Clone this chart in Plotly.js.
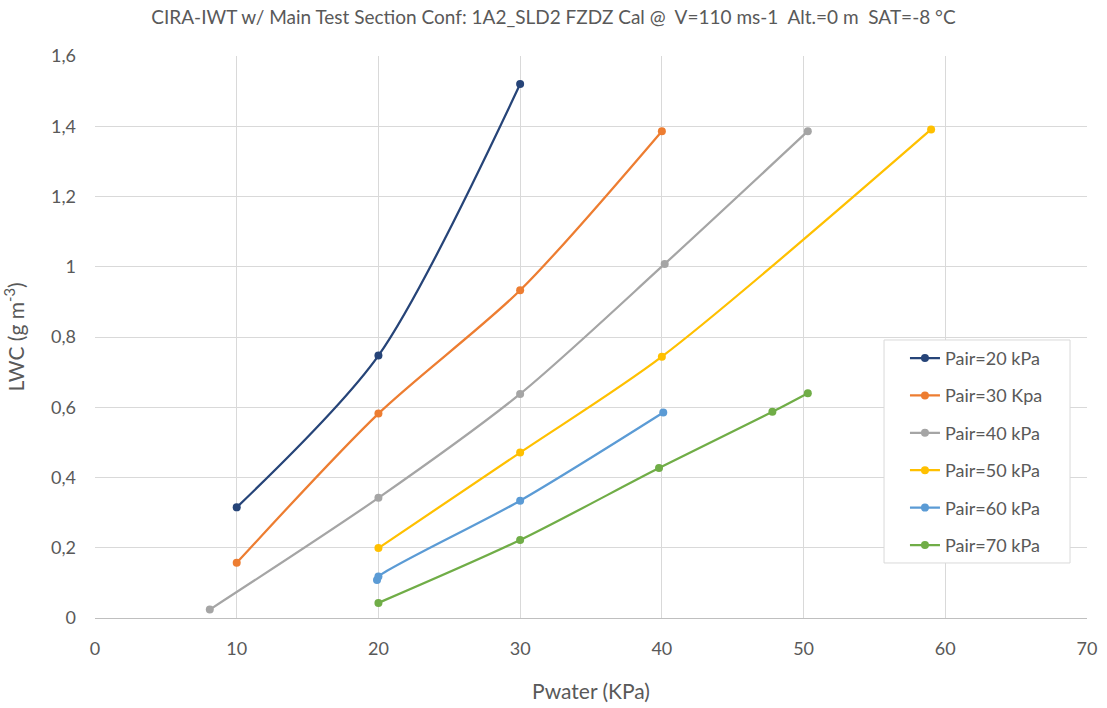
<!DOCTYPE html>
<html>
<head>
<meta charset="utf-8">
<script src="https://cdn.plot.ly/plotly-3.0.1.min.js"></script>
<style>
  html, body { margin: 0; padding: 0; background: #ffffff; }
  #chart { width: 1107px; height: 708px; }
</style>
</head>
<body>
<div id="chart"></div>
<script>
// LWC calibration curves, one per air pressure setting
const seriesNames = ['Pair=20 kPa', 'Pair=30 Kpa', 'Pair=40 kPa', 'Pair=50 kPa', 'Pair=60 kPa', 'Pair=70 kPa'];
const seriesColors = ['#264478', '#ED7D31', '#A5A5A5', '#FFC000', '#5B9BD5', '#70AD47'];

const pwater20 = [10, 20, 30];
const lwc20 = [0.315, 0.747, 1.52];

const pwater30 = [10, 20, 30, 40];
const lwc30 = [0.157, 0.582, 0.933, 1.386];

const pwater40 = [8.1, 20, 30, 40.2, 50.3];
const lwc40 = [0.024, 0.342, 0.638, 1.008, 1.386];

const pwater50 = [20, 30, 40, 59.0];
const lwc50 = [0.199, 0.471, 0.744, 1.391];

const pwater60 = [19.9, 20, 30, 40.1];
const lwc60 = [0.108, 0.118, 0.334, 0.585];

const pwater70 = [20, 30, 39.8, 47.8, 50.3];
const lwc70 = [0.043, 0.222, 0.427, 0.587, 0.640];

const xs = [pwater20, pwater30, pwater40, pwater50, pwater60, pwater70];
const ys = [lwc20, lwc30, lwc40, lwc50, lwc60, lwc70];

const traces = seriesNames.map((name, i) => ({
  type: 'scatter',
  mode: 'lines+markers',
  name: name,
  legendgroup: 'g' + i,
  x: xs[i],
  y: ys[i],
  line: { color: seriesColors[i], width: 2.25, shape: 'spline', smoothing: 0.8 },
  marker: { color: seriesColors[i], size: 8 },
  hoverinfo: 'x+y+name'
}));

const fontFamily = 'Lato, "Open Sans", "Liberation Sans", sans-serif';

const layout = {
  width: 1107,
  height: 708,
  paper_bgcolor: '#ffffff',
  plot_bgcolor: '#ffffff',
  separators: ',.',
  margin: { l: 95, r: 20, t: 56, b: 90 },
  font: { family: fontFamily, color: '#595959', size: 17 },
  title: {
    text: 'CIRA-IWT w/ Main Test Section Conf: 1A2_SLD2 FZDZ Cal @  V=110 ms-1  Alt.=0 m  SAT=-8 °C',
    font: { family: fontFamily, size: 19, color: '#595959' },
    x: 0.5, xanchor: 'center',
    y: 0.976, yanchor: 'middle'
  },
  xaxis: {
    range: [0, 70],
    dtick: 10,
    tick0: 0,
    showgrid: true,
    gridcolor: '#d9d9d9',
    gridwidth: 1,
    zeroline: false,
    showline: true,
    linecolor: '#bfbfbf',
    linewidth: 1,
    ticks: '',
    ticklabelstandoff: 14,
    tickfont: { size: 18, color: '#595959' },
    title: { text: 'Pwater (KPa)', font: { size: 21, color: '#595959' }, standoff: 26 }
  },
  yaxis: {
    range: [0, 1.6],
    dtick: 0.2,
    tick0: 0,
    showgrid: true,
    gridcolor: '#d9d9d9',
    gridwidth: 1,
    zeroline: false,
    showline: false,
    ticks: '',
    ticklabelstandoff: 18,
    tickfont: { size: 18, color: '#595959' },
    title: { text: 'LWC (g m<sup>-3</sup>)', font: { size: 21, color: '#595959' }, standoff: 20 }
  },
  // legend frame drawn as a box so it can be wider than the entries
  shapes: [{
    type: 'rect',
    xref: 'paper', yref: 'paper',
    x0: 0.7954, x1: 0.9829,
    y0: 0.0979, y1: 0.4947,
    fillcolor: '#ffffff',
    line: { color: '#d9d9d9', width: 1 },
    layer: 'above'
  }],
  legend: {
    x: 0.8165, y: 0.495,
    xanchor: 'left', yanchor: 'top',
    bgcolor: 'rgba(0,0,0,0)',
    borderwidth: 0,
    font: { size: 18, color: '#595959' },
    traceorder: 'grouped',
    tracegroupgap: 11
  },
  showlegend: true
};

Plotly.newPlot('chart', traces, layout, { displayModeBar: false });
</script>
</body>
</html>
